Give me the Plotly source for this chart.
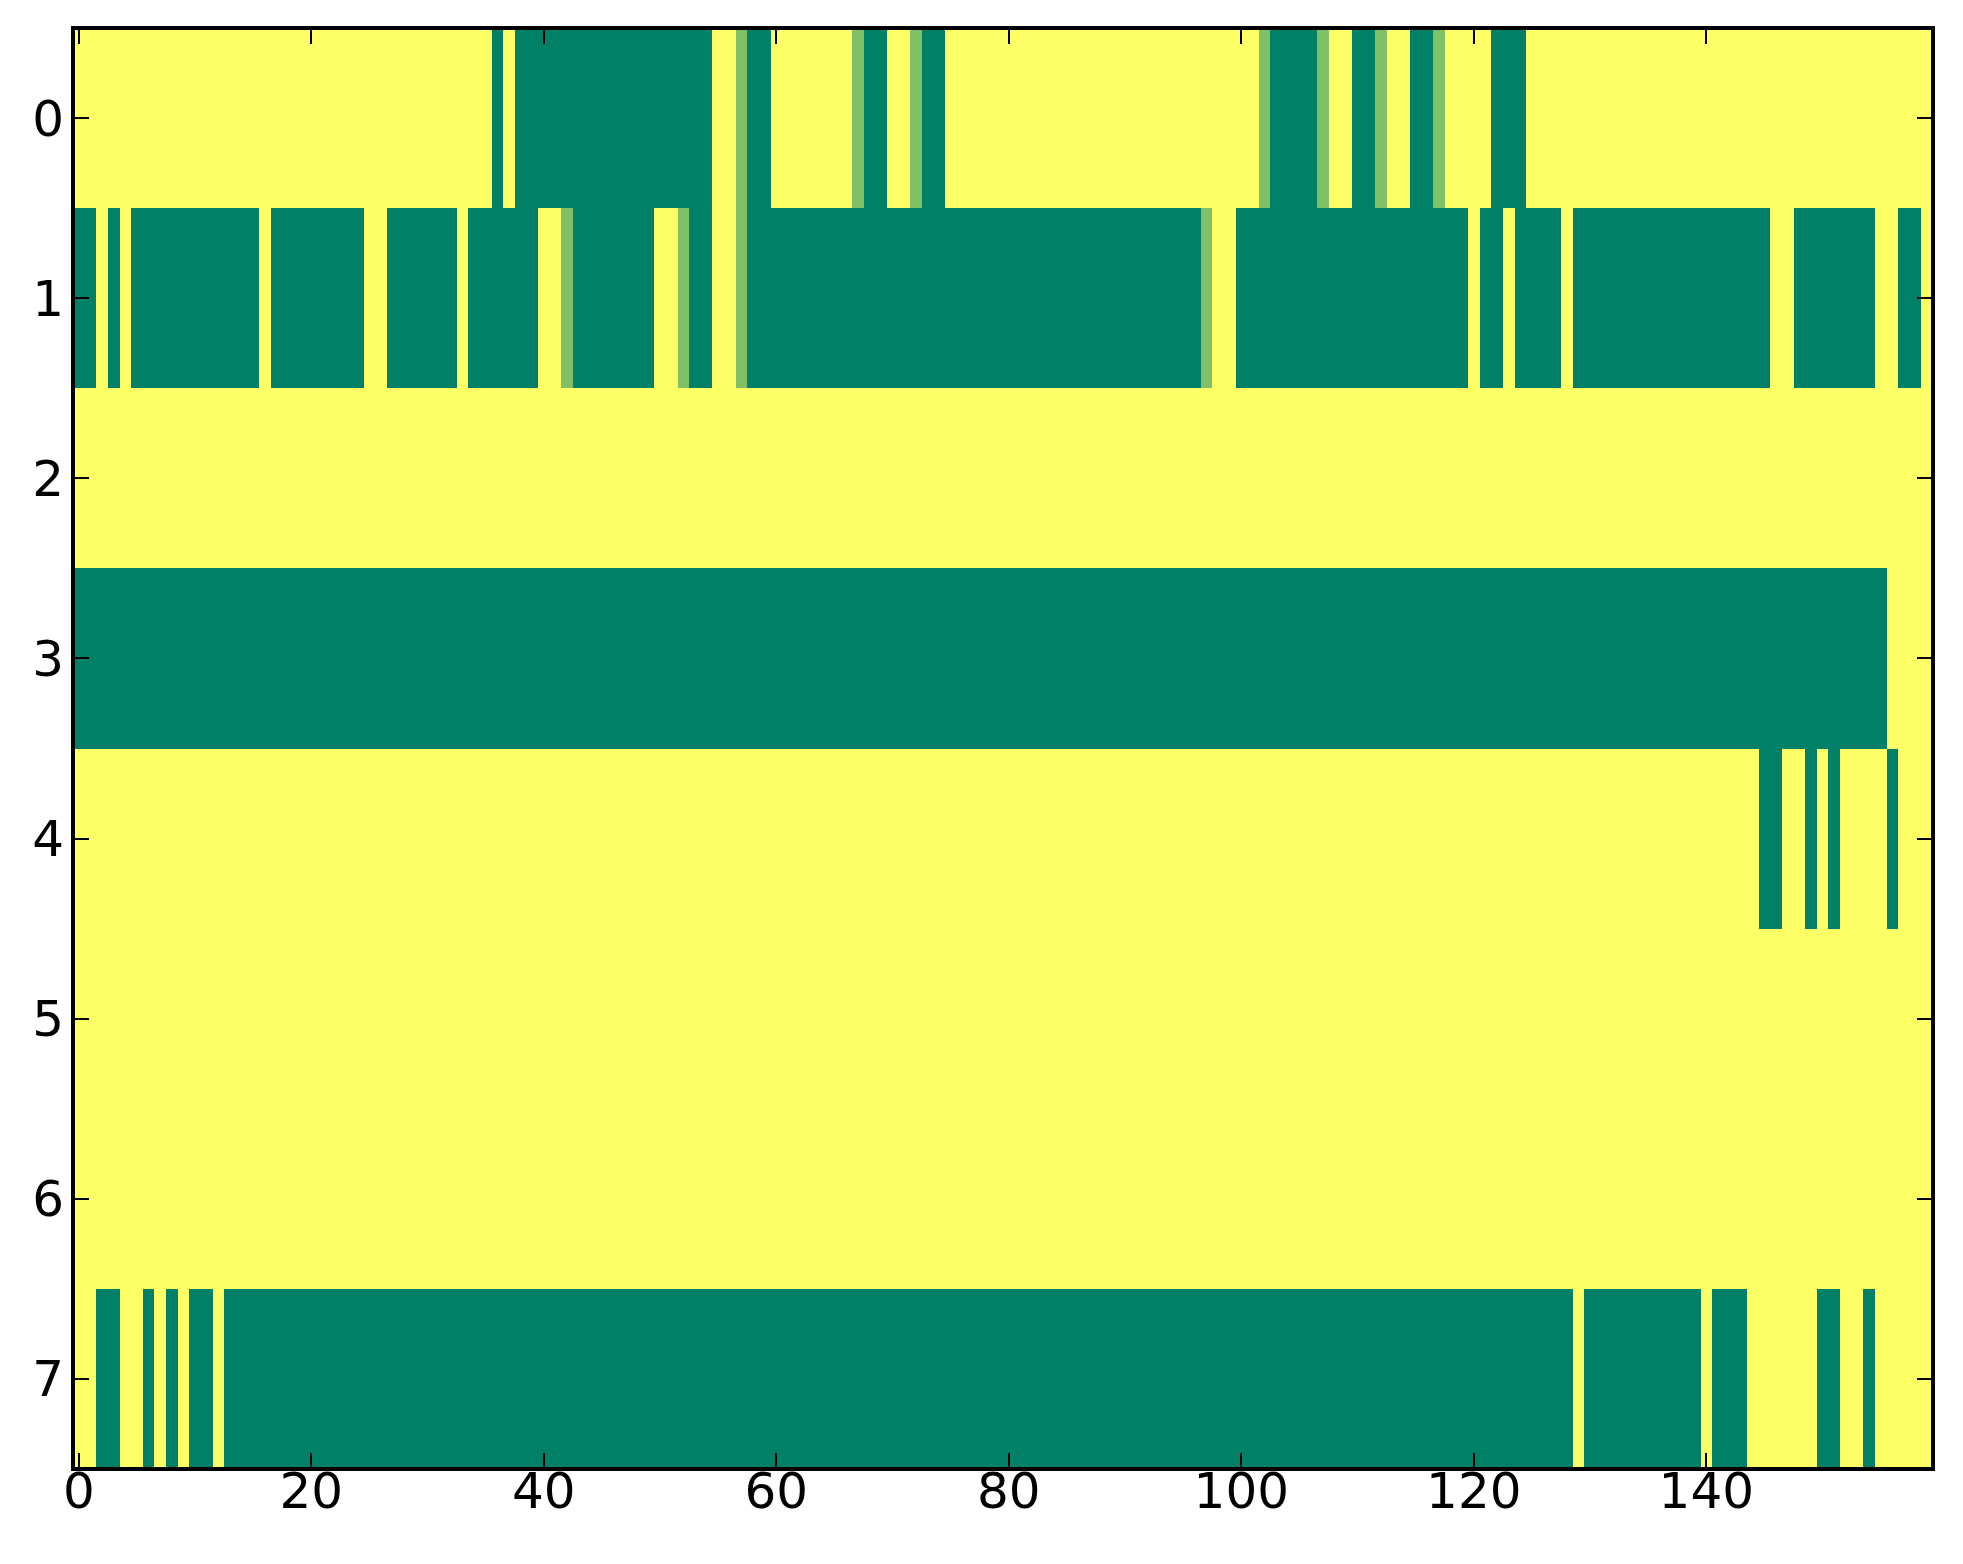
import plotly.graph_objects as go

# Run-length data per row: (value, count); 1 = yellow, 0 = dark green, 0.5 = mid green
row0 = [(1, 36), (0, 1), (1, 1), (0, 17), (1, 2), (0.5, 1), (0, 2), (1, 7), (0.5, 1), (0, 2),
        (1, 2), (0.5, 1), (0, 2), (1, 27), (0.5, 1), (0, 4), (0.5, 1), (1, 2), (0, 2), (0.5, 1),
        (1, 2), (0, 2), (0.5, 1), (1, 4), (0, 3), (1, 35)]
row1 = [(0, 2), (1, 1), (0, 1), (1, 1), (0, 11), (1, 1), (0, 8), (1, 2), (0, 6), (1, 1),
        (0, 6), (1, 2), (0.5, 1), (0, 7), (1, 2), (0.5, 1), (0, 2), (1, 2), (0.5, 1), (0, 39),
        (0.5, 1), (1, 2), (0, 20), (1, 1), (0, 2), (1, 1), (0, 4), (1, 1), (0, 17), (1, 2),
        (0, 7), (1, 2), (0, 2), (1, 1)]
row2 = [(1, 160)]
row3 = [(0, 156), (1, 4)]
row4 = [(1, 145), (0, 2), (1, 2), (0, 1), (1, 1), (0, 1), (1, 4), (0, 1), (1, 3)]
row5 = [(1, 160)]
row6 = [(1, 160)]
row7 = [(1, 2), (0, 2), (1, 2), (0, 1), (1, 1), (0, 1), (1, 1), (0, 2), (1, 1), (0, 116),
        (1, 1), (0, 10), (1, 1), (0, 3), (1, 6), (0, 2), (1, 2), (0, 1), (1, 5)]

rows = [row0, row1, row2, row3, row4, row5, row6, row7]
x_ticks = [0, 20, 40, 60, 80, 100, 120, 140]
y_ticks = [0, 1, 2, 3, 4, 5, 6, 7]


def expand(runs):
    out = []
    for v, n in runs:
        out.extend([v] * n)
    return out


z = [expand(r) for r in rows]
ncols = len(z[0])

summer = [[0.0, "rgb(0,128,102)"], [1.0, "rgb(255,255,102)"]]

fig = go.Figure(go.Heatmap(
    z=z, x=list(range(ncols)), y=list(range(len(rows))),
    colorscale=summer, zmin=0, zmax=1, showscale=False, hoverinfo="skip"))

axis_common = dict(
    showgrid=False, zeroline=False, showline=False,
    mirror="allticks", ticks="inside", ticklen=16, tickwidth=2, tickcolor="black",
    tickfont=dict(family="DejaVu Sans", size=50, color="black"),
)

fig.update_layout(
    width=1963, height=1564,
    margin=dict(l=73, r=30, t=28, b=95, pad=0),
    paper_bgcolor="white", plot_bgcolor="white",
    xaxis=dict(range=[-0.5, ncols - 0.5], tickvals=x_ticks, ticklabelstandoff=-12, **axis_common),
    yaxis=dict(range=[len(rows) - 0.5, -0.5], tickvals=y_ticks, ticklabelstandoff=8, **axis_common),
)

# Frame centred on the data edges, like matplotlib spines
fig.add_shape(type="rect", xref="x domain", yref="y domain", x0=0, x1=1, y0=0, y1=1,
              line=dict(color="black", width=4), fillcolor="rgba(0,0,0,0)", layer="above")

fig.write_html(
    "out.html",
    config={"displayModeBar": False},
    post_script="document.body.style.margin='0';document.body.style.overflow='hidden';",
)
